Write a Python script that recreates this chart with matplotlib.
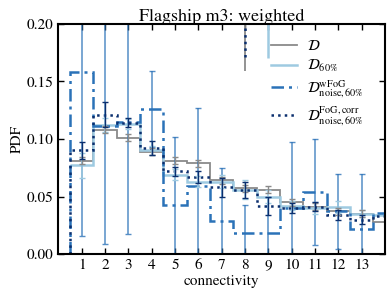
import numpy as np
import matplotlib
matplotlib.use("Agg")
import matplotlib.pyplot as plt

# connectivity bins (centres); last bin is cut by the x-limit
connectivity = np.arange(1, 15)

# PDF values per series
pdf_all = [0.081, 0.108, 0.101, 0.089, 0.081, 0.079, 0.064, 0.057, 0.056, 0.045, 0.041, 0.037, 0.035, 0.028]
pdf_60 = [0.077, 0.112, 0.113, 0.090, 0.069, 0.063, 0.063, 0.056, 0.050, 0.042, 0.040, 0.041, 0.035, 0.034]
pdf_wfog = [0.158, 0.111, 0.115, 0.126, 0.043, 0.059, 0.029, 0.018, 0.018, 0.040, 0.054, 0.037, 0.022, 0.036]
pdf_corr = [0.090, 0.121, 0.114, 0.092, 0.072, 0.067, 0.058, 0.056, 0.042, 0.040, 0.041, 0.034, 0.030, 0.033]

# 1-sigma errors for bins 1..13
err_all = [0.003, 0.003, 0.003, 0.003, 0.003, 0.003, 0.003, 0.003, 0.003, 0.003, 0.003, 0.003, 0.003]
err_60 = [0.011, 0.006, 0.004, 0.004, 0.005, 0.005, 0.006, 0.008, 0.006, 0.004, 0.005, 0.005, 0.003]
err_wfog = [0.142, 0.102, 0.098, 0.033, 0.059, 0.068, 0.046, 0.025, 0.032, 0.057, 0.046, 0.033, 0.048]
err_corr = [0.007, 0.011, 0.004, 0.006, 0.004, 0.005, 0.008, 0.007, 0.008, 0.004, 0.004, 0.004, 0.004]

# stray error-bar segments visible at the top of the panel
spike_x = [8, 8, 9]
spike_low = [0.159, 0.171, 0.170]

labels = [r"$\mathcal{D}$",
          r"$\mathcal{D}_{60\%}$",
          r"$\mathcal{D}^{\rm wFoG}_{\rm noise,60\%}$",
          r"$\mathcal{D}^{\rm FoG,corr}_{\rm noise,60\%}$"]

plt.rcParams["font.family"] = "STIXGeneral"
plt.rcParams["mathtext.fontset"] = "stix"

c_grey = "#8a8a8a"
c_light = "#9ecae1"
c_mid = "#2b72b8"
c_dark = "#0b2f6e"

fig = plt.figure(figsize=(3.89, 2.92), dpi=100)
ax = fig.add_axes([0.150, 0.130, 0.840, 0.788])

edges = np.append(connectivity - 0.5, connectivity[-1] + 0.5)
n = len(err_all)

ax.stairs(pdf_all, edges, baseline=None, color=c_grey, lw=1.3, label=labels[0])
ax.stairs(pdf_60, edges, baseline=None, color=c_light, lw=1.8, label=labels[1])
ax.stairs(pdf_wfog, edges, baseline=0, color=c_mid, lw=1.8,
          ls=(0, (5, 2, 1.2, 2)), label=labels[2])
ax.stairs(pdf_corr, edges, baseline=0, color=c_dark, lw=1.8, ls=":", label=labels[3])

ax.errorbar(connectivity[:n], pdf_wfog[:n], yerr=err_wfog, fmt="none",
            ecolor=c_mid, elinewidth=1.1, capsize=2.2, alpha=0.8)
ax.errorbar(connectivity[:n], pdf_60[:n], yerr=err_60, fmt="none",
            ecolor=c_light, elinewidth=1.1, capsize=2.2)
ax.errorbar(connectivity[:n], pdf_all[:n], yerr=err_all, fmt="none",
            ecolor=c_grey, elinewidth=1.0, capsize=2.0)
ax.errorbar(connectivity[:n], pdf_corr[:n], yerr=err_corr, fmt="none",
            ecolor=c_dark, elinewidth=1.0, capsize=2.2)

ax.vlines(spike_x[0], spike_low[0], 0.2, color=c_grey, lw=1.3)
ax.vlines(spike_x[1], spike_low[1], 0.2, color=c_dark, lw=1.8, ls=":")
ax.vlines(spike_x[2], spike_low[2], 0.2, color=c_light, lw=1.8)

ax.set_xlim(0, 14)
ax.set_ylim(0, 0.2)
ax.set_xticks(connectivity[:13])
ax.set_yticks([0.0, 0.05, 0.10, 0.15, 0.20])
ax.set_yticklabels(["0.00", "0.05", "0.10", "0.15", "0.20"])
ax.tick_params(direction="in", top=True, right=True, labelsize=11, length=4, width=1)
for s in ax.spines.values():
    s.set_linewidth(1.5)

ax.set_xlabel("connectivity", fontsize=11, labelpad=2)
ax.set_ylabel("PDF", fontsize=11, labelpad=2)
ax.set_title("Flagship m3: weighted", fontsize=13, pad=2)

ax.legend(loc="upper right", bbox_to_anchor=(0.975, 0.99), frameon=False,
          fontsize=10.5, handlelength=1.8, labelspacing=0.3, handletextpad=0.7)

fig.savefig("out.png", dpi=100)
